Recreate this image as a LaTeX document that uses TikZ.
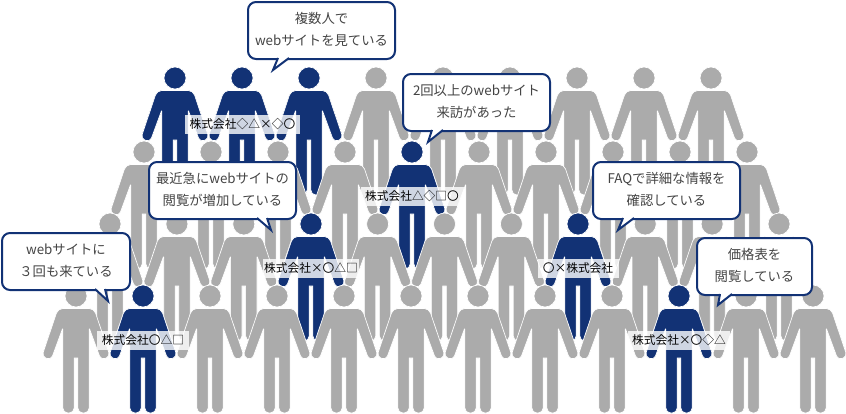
\documentclass[tikz,border=0pt]{standalone}
\usepackage{fontspec}
\setmainfont{Noto Sans CJK JP}
\usetikzlibrary{calc}
\definecolor{navyblue}{HTML}{123275}
\definecolor{crowdgray}{HTML}{ABABAB}
\definecolor{bubbletext}{HTML}{444444}
\tikzset{
    person/.pic = {
        \path [pic actions, rounded corners=3.8pt]
            (1.8,62) [sharp corners] -- (1.8,100) [rounded corners=3.8pt] -- (1.8,117) -- (13.2,117)
            [rounded corners=0.8pt] -- (13.2,32)
            [rounded corners=3.2pt] -- (25,64) -- (34.2,60.5)
            [rounded corners=3.5pt] -- (18,12.5) -- (-18,12.5)
            [rounded corners=3.2pt] -- (-34.2,60.5) -- (-25,64)
            [rounded corners=0.8pt] -- (-13.2,32)
            [rounded corners=3.8pt] -- (-13.2,117) -- (-1.8,117)
            [sharp corners] -- (-1.8,100) -- (-1.8,62) -- cycle;
        \path [pic actions] (0,0) circle [radius=8.25pt];
    },
    grayperson/.style = {
        fill=crowdgray,
        draw=white,
        line width=0.5pt
    },
    blueperson/.style = {
        grayperson,
        fill=navyblue
    },
    bubblebox/.style = {
        align=center,
        rectangle,
        rounded corners=6pt,
        draw=navyblue,
        fill=white,
        line width=1.5pt,
        text=bubbletext,
        font=\fontsize{10}{16.5}\selectfont,
        text depth=2.5pt,
        minimum width=110.25pt,
        minimum height=42.75pt,
        inner sep=0pt,
        outer sep=0pt
    },
    bubbletail/.style = {
        draw=navyblue,
        fill=white,
        line width=1.5pt,
        line join=miter
    },
    firmlabel/.style = {
        fill=white,
        fill opacity=0.8,
        text opacity=1,
        text=black,
        font=\fontsize{8.8}{10}\selectfont,
        minimum height=14.25pt,
        inner sep=0pt,
        outer sep=0pt
    }
}
\begin{document}
\begin{tikzpicture}[x=0.75pt, y=-0.75pt]
    \useasboundingbox (0,0) rectangle (846,414);

    % crowd, back row first
    \foreach \col in {0,...,8}
        \pic [grayperson] at ({175+67*\col},78) {person};
    \foreach \xpos in {175,242,309}
        \pic [blueperson] at (\xpos,78) {person};
    \foreach \col in {0,...,9}
        \pic [grayperson] at ({144+67*\col},152) {person};
    \pic [blueperson] at (412,152) {person};
    \foreach \col in {0,...,10}
        \pic [grayperson] at ({110+66.9*\col},224) {person};
    \foreach \xpos in {311,578}
        \pic [blueperson] at (\xpos,224) {person};
    \foreach \col in {0,...,11}
        \pic [grayperson] at ({76+67*\col},296) {person};
    \foreach \xpos in {143,679}
        \pic [blueperson] at (\xpos,296) {person};

    % company labels
    \node [firmlabel, minimum width=86.25pt] (firmA) at (242.5,124.5) {株式会社◇△×◇〇};
    \node [firmlabel, minimum width=77.25pt] (firmB) at (412,196.5) {株式会社△◇□〇};
    \node [firmlabel, minimum width=72pt] (firmC) at (311,268.5) {株式会社×〇△□};
    \node [firmlabel, minimum width=60.75pt] (firmD) at (578,268.5) {〇×株式会社};
    \node [firmlabel, minimum width=69pt] (firmE) at (143,340.5) {株式会社〇△□};
    \node [firmlabel, minimum width=76.5pt] (firmF) at (679,340.5) {株式会社×〇◇△};

    % speech bubbles
    \node [bubblebox] (bubbleMany) at (321.5,30.5) {複数人で\\webサイトを見ている};
    \node [bubblebox] (bubbleTwice) at (476.5,102.5) {2回以上のwebサイト\\来訪があった};
    \node [bubblebox] (bubbleRecent) at (222.5,190.5) {最近急にwebサイトの\\閲覧が増加している};
    \node [bubblebox] (bubbleFaq) at (666.5,190.5) {FAQで詳細な情報を\\確認している};
    \node [bubblebox, minimum width=96pt] (bubbleThree) at (66,261.5) {webサイトに\\３回も来ている};
    \node [bubblebox, minimum width=86.25pt] (bubblePrice) at (754.5,266.5) {価格表を\\閲覧している};

    % tails
    \coordinate (tipMany) at (273,70);
    \coordinate (tipTwice) at (428,142);
    \coordinate (tipRecent) at (271,230);
    \coordinate (tipFaq) at (618,230);
    \coordinate (tipThree) at (108,301);
    \coordinate (tipPrice) at (718,305);
    \path [bubbletail] (278,58) -- (tipMany) -- (289,58);
    \path [bubbletail] (432,130) -- (tipTwice) -- (443,130);
    \path [bubbletail] (257,218) -- (tipRecent) -- (267,218);
    \path [bubbletail] (623,218) -- (tipFaq) -- (634,218);
    \path [bubbletail] (95,289) -- (tipThree) -- (105,289);
    \path [bubbletail] (720,294) -- (tipPrice) -- (732,294);
\end{tikzpicture}
\end{document}
